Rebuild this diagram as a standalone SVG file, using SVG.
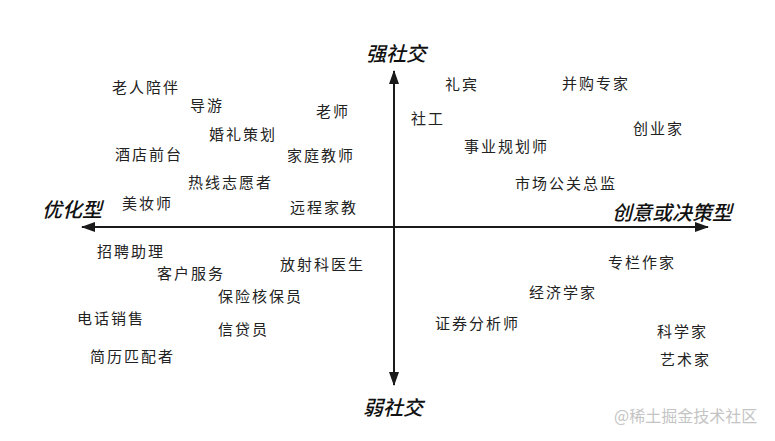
<svg xmlns="http://www.w3.org/2000/svg" width="775" height="441" viewBox="0 0 775 441">
<style>
.job{font-family:"Noto Sans CJK SC","Noto Sans",sans-serif;font-size:15px;letter-spacing:2px;fill:#222}
.axis{font-family:"Noto Sans CJK SC","Noto Sans",sans-serif;font-size:20px;font-style:italic;font-weight:500;fill:#111}
.wm{font-family:"Noto Sans CJK SC","Noto Sans",sans-serif;font-size:16px;fill:#c4c4c4}
.ax{stroke:#1a1a1a;stroke-width:2;fill:none}
</style>
<defs>
<marker id="arr" viewBox="0 0 14 10" refX="13" refY="5" markerWidth="14" markerHeight="10" markerUnits="userSpaceOnUse" orient="auto">
<path d="M0,0 L14,5 L0,10 Z" fill="#1a1a1a"/>
</marker>
</defs>
<rect width="775" height="441" fill="#fff"/>
<g id="connectors">
<line class="ax" x1="394" y1="227" x2="394" y2="71" marker-end="url(#arr)"/>
<line class="ax" x1="394" y1="227" x2="394" y2="385" marker-end="url(#arr)"/>
<line class="ax" x1="394" y1="227" x2="82" y2="227" marker-end="url(#arr)"/>
<line class="ax" x1="394" y1="227" x2="708" y2="227" marker-end="url(#arr)"/>
</g>
<g id="axis-top"><text class="axis" x="396" y="61" text-anchor="middle">强社交</text></g>
<g id="axis-bottom"><text class="axis" x="393" y="415" text-anchor="middle">弱社交</text></g>
<g id="axis-left"><text class="axis" x="72" y="217" text-anchor="middle">优化型</text></g>
<g id="axis-right"><text class="axis" x="672" y="220" text-anchor="middle">创意或决策型</text></g>
<g id="n-laoren"><text class="job" x="112" y="93">老人陪伴</text></g>
<g id="n-daoyou"><text class="job" x="190" y="111">导游</text></g>
<g id="n-laoshi"><text class="job" x="316" y="117">老师</text></g>
<g id="n-hunli"><text class="job" x="209" y="140">婚礼策划</text></g>
<g id="n-jiudian"><text class="job" x="115" y="160">酒店前台</text></g>
<g id="n-jiating"><text class="job" x="287" y="161">家庭教师</text></g>
<g id="n-rexian"><text class="job" x="188" y="188">热线志愿者</text></g>
<g id="n-meizhuang"><text class="job" x="122" y="209">美妆师</text></g>
<g id="n-yuancheng"><text class="job" x="290" y="213">远程家教</text></g>
<g id="n-libin"><text class="job" x="445" y="90">礼宾</text></g>
<g id="n-binggou"><text class="job" x="562" y="89">并购专家</text></g>
<g id="n-shegong"><text class="job" x="411" y="124">社工</text></g>
<g id="n-chuangye"><text class="job" x="633" y="134">创业家</text></g>
<g id="n-shiye"><text class="job" x="464" y="152">事业规划师</text></g>
<g id="n-shichang"><text class="job" x="515" y="189">市场公关总监</text></g>
<g id="n-zhaopin"><text class="job" x="97" y="257">招聘助理</text></g>
<g id="n-kehu"><text class="job" x="157" y="279">客户服务</text></g>
<g id="n-fangshe"><text class="job" x="280" y="270">放射科医生</text></g>
<g id="n-baoxian"><text class="job" x="218" y="302">保险核保员</text></g>
<g id="n-dianhua"><text class="job" x="77" y="324">电话销售</text></g>
<g id="n-xindai"><text class="job" x="218" y="335">信贷员</text></g>
<g id="n-jianli"><text class="job" x="90" y="362">简历匹配者</text></g>
<g id="n-zhuanlan"><text class="job" x="608" y="268">专栏作家</text></g>
<g id="n-jingji"><text class="job" x="529" y="298">经济学家</text></g>
<g id="n-zhengquan"><text class="job" x="435" y="329">证券分析师</text></g>
<g id="n-kexue"><text class="job" x="657" y="337">科学家</text></g>
<g id="n-yishu"><text class="job" x="660" y="365">艺术家</text></g>
<text class="wm" x="614" y="422">@稀土掘金技术社区</text>
</svg>
